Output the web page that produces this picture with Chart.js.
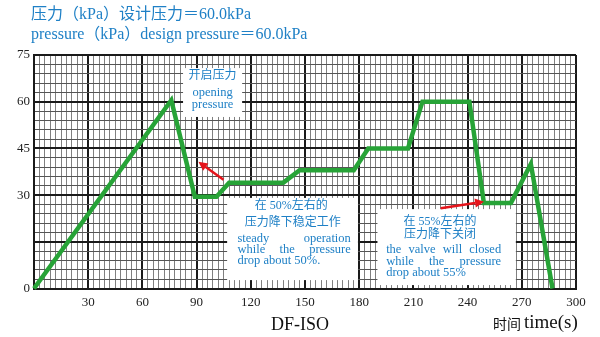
<!doctype html>
<html lang="zh">
<head>
<meta charset="utf-8">
<title>DF-ISO</title>
<script src="https://cdn.jsdelivr.net/npm/chart.js@4.4.0/dist/chart.umd.min.js"></script>
<style>
  html, body { margin: 0; padding: 0; background: #fff; }
  #wrap { width: 600px; height: 337px; position: relative; }
</style>
</head>
<body>
<div id="wrap"><canvas id="chart" width="600" height="337"></canvas></div>
<script>
// values
const timeVals     = [0, 76, 89, 101, 108, 138, 147, 177, 185, 207, 215, 241, 249, 264, 275, 287];
const pressureVals = [0, 60.5, 29.5, 29.5, 34, 34, 38, 38, 45, 45, 60, 60, 27.5, 27.5, 40, 0];
const xTickLabels  = [30, 60, 90, 120, 150, 180, 210, 240, 270, 300];
const yTickLabels  = [0, 30, 45, 60, 75];

const titleLines = ['压力（kPa）设计压力＝60.0kPa', 'pressure（kPa）design pressure＝60.0kPa'];
const chartName  = 'DF-ISO';
const xCaption   = ['时间', 'time(s)'];

const blue = '#1f80c6';
const serif = '"Liberation Serif", "Noto Sans CJK SC"';

// note boxes (data coords) and their lines (px offsets inside box)
const notes = [
  { x0: 82.5, x1: 115.2, y0: 70.8, y1: 55.1, lines: [
    { t: '开启压力', x: 29.5, y: 8, a: 'c', f: 12 },
    { t: 'opening', x: 29.5, y: 25, a: 'c', f: 12.5 },
    { t: 'pressure', x: 29.5, y: 37, a: 'c', f: 12.5 }
  ]},
  { x0: 106.9, x1: 179.3, y0: 29.1, y1: 2.7, lines: [
    { t: '在 50%左右的', x: 64, y: 8, a: 'c', f: 12 },
    { t: '压力降下稳定工作', x: 65.5, y: 25, a: 'c', f: 12 },
    { t: 'steady operation', x: 10.3, w: 113.4, y: 41, a: 'j', f: 12.5 },
    { t: 'while the pressure', x: 10.3, w: 113.4, y: 52, a: 'j', f: 12.5 },
    { t: 'drop about 50%.', x: 10.3, y: 63, a: 'l', f: 12.5 }
  ]},
  { x0: 190.1, x1: 266.7, y0: 25.5, y1: 1.1, lines: [
    { t: '在 55%左右的', x: 62.5, y: 12.5, a: 'c', f: 12 },
    { t: '压力降下关闭', x: 62.5, y: 26, a: 'c', f: 12 },
    { t: 'the valve will closed', x: 8.7, w: 115, y: 41, a: 'j', f: 12.5 },
    { t: 'while the pressure', x: 8.7, w: 115, y: 52.5, a: 'j', f: 12.5 },
    { t: 'drop about 55%', x: 8.7, y: 63.5, a: 'l', f: 12.5 }
  ]}
];

const arrows = [
  { fx: 104.9, fy: 34.9, tx: 91.0, ty: 40.7 },
  { fx: 225.1, fy: 25.8, tx: 249.1, ty: 27.9 }
];

function drawLine(ctx, ln, left, top) {
  ctx.font = ln.f + 'px ' + serif;
  const y = top + ln.y;
  if (ln.a === 'c') {
    ctx.textAlign = 'center';
    ctx.fillText(ln.t, left + ln.x, y);
  } else if (ln.a === 'l') {
    ctx.textAlign = 'left';
    ctx.fillText(ln.t, left + ln.x, y);
  } else {
    ctx.textAlign = 'left';
    const words = ln.t.split(' ');
    const used = words.reduce((s, w) => s + ctx.measureText(w).width, 0);
    const gap = (ln.w - used) / (words.length - 1);
    let x = left + ln.x;
    words.forEach(w => {
      ctx.fillText(w, x, y);
      x += ctx.measureText(w).width + gap;
    });
  }
}

const extras = {
  id: 'extras',
  beforeDatasetsDraw(chart) {
    const { ctx, scales: { x, y } } = chart;
    ctx.save();
    notes.forEach(n => {
      const l = x.getPixelForValue(n.x0), r = x.getPixelForValue(n.x1);
      const t = y.getPixelForValue(n.y0), b = y.getPixelForValue(n.y1);
      ctx.fillStyle = '#fff';
      ctx.fillRect(l, t, r - l, b - t);
      ctx.fillStyle = blue;
      ctx.textBaseline = 'middle';
      n.lines.forEach(ln => drawLine(ctx, ln, l, t));
    });
    ctx.restore();
  },
  afterDatasetsDraw(chart) {
    const { ctx, scales: { x, y } } = chart;
    ctx.save();
    ctx.strokeStyle = '#e5141b';
    ctx.fillStyle = '#e5141b';
    ctx.lineWidth = 2.5;
    arrows.forEach(a => {
      const x0 = x.getPixelForValue(a.fx), y0 = y.getPixelForValue(a.fy);
      const x1 = x.getPixelForValue(a.tx), y1 = y.getPixelForValue(a.ty);
      const ang = Math.atan2(y1 - y0, x1 - x0);
      const hl = 9, hw = 4.5;
      const bx = x1 - hl * Math.cos(ang), by = y1 - hl * Math.sin(ang);
      ctx.beginPath();
      ctx.moveTo(x0, y0);
      ctx.lineTo(bx, by);
      ctx.stroke();
      ctx.beginPath();
      ctx.moveTo(x1, y1);
      ctx.lineTo(bx + hw * Math.sin(ang), by - hw * Math.cos(ang));
      ctx.lineTo(bx - hw * Math.sin(ang), by + hw * Math.cos(ang));
      ctx.closePath();
      ctx.fill();
    });
    ctx.restore();
  },
  afterDraw(chart) {
    const { ctx } = chart;
    ctx.save();
    ctx.textBaseline = 'middle';
    ctx.fillStyle = blue;
    ctx.textAlign = 'left';
    ctx.font = '16px ' + serif;
    ctx.fillText(titleLines[0], 31, 15);
    ctx.fillText(titleLines[1], 31, 35);
    ctx.fillStyle = '#111';
    ctx.textAlign = 'center';
    ctx.font = '18px ' + serif;
    ctx.fillText(chartName, 300, 325);
    // x caption: smaller CJK part, serif latin part
    ctx.textAlign = 'left';
    ctx.font = '14px "Noto Sans CJK SC"';
    ctx.fillText(xCaption[0], 493, 324);
    ctx.font = '19px "Liberation Serif"';
    ctx.fillText(xCaption[1], 524, 323);
    ctx.restore();
  }
};

const isMajor = (v, step) => Math.abs(v % step) < 1e-6;

new Chart(document.getElementById('chart'), {
  type: 'line',
  data: {
    datasets: [{
      data: timeVals.map((t, i) => ({ x: t, y: pressureVals[i] })),
      borderColor: '#27a337',
      borderWidth: 4.5,
      pointRadius: 0,
      tension: 0,
      clip: false
    }]
  },
  options: {
    responsive: false,
    animation: false,
    events: [],
    layout: { padding: { top: 55, right: 24, left: 0, bottom: 0 } },
    plugins: { legend: { display: false }, tooltip: { enabled: false } },
    scales: {
      x: {
        type: 'linear',
        min: 0, max: 300,
        afterBuildTicks: s => { s.ticks = []; for (let v = 0; v <= 300; v += 3) s.ticks.push({ value: v }); },
        afterFit: s => { s.height = 48.5; },
        grid: {
          drawTicks: false,
          color: c => isMajor(c.tick.value, 30) ? '#1a1a1a' : '#808080',
          lineWidth: c => isMajor(c.tick.value, 30) ? 2 : 1
        },
        border: { color: '#1a1a1a', width: 2 },
        ticks: {
          autoSkip: false, maxRotation: 0, padding: 6, color: '#222',
          font: { family: 'Liberation Serif', size: 13 },
          callback: v => xTickLabels.includes(v) ? String(v) : ''
        }
      },
      y: {
        min: 0, max: 75,
        afterBuildTicks: s => { s.ticks = []; for (let v = 0; v <= 75; v += 3) s.ticks.push({ value: v }); },
        afterFit: s => { s.width = 34; },
        grid: {
          drawTicks: false,
          color: c => isMajor(c.tick.value, 15) ? '#1a1a1a' : '#555',
          lineWidth: c => isMajor(c.tick.value, 15) ? 2 : 1
        },
        border: { color: '#1a1a1a', width: 2 },
        ticks: {
          autoSkip: false, padding: 4, color: '#222',
          font: { family: 'Liberation Serif', size: 13 },
          callback: v => yTickLabels.includes(v) ? String(v) : ''
        }
      }
    }
  },
  plugins: [extras]
});
</script>
</body>
</html>
